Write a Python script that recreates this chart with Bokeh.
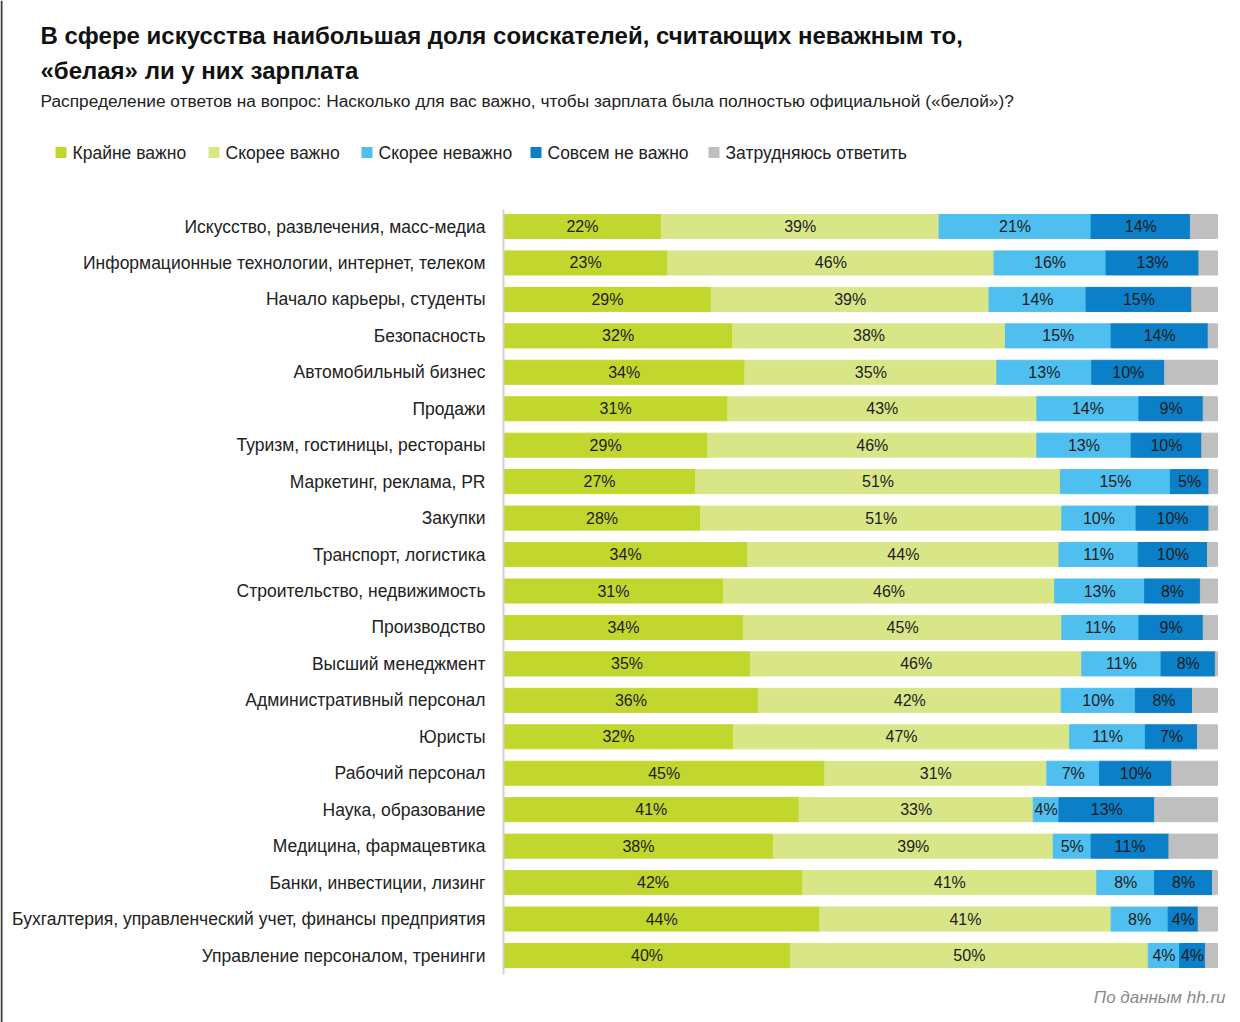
from bokeh.plotting import figure
from bokeh.models import ColumnDataSource, Range1d
from bokeh.embed import file_html
from bokeh.resources import INLINE
from bokeh.core.properties import value

categories = [
    "Искусство, развлечения, масс-медиа",
    "Информационные технологии, интернет, телеком",
    "Начало карьеры, студенты",
    "Безопасность",
    "Автомобильный бизнес",
    "Продажи",
    "Туризм, гостиницы, рестораны",
    "Маркетинг, реклама, PR",
    "Закупки",
    "Транспорт, логистика",
    "Строительство, недвижимость",
    "Производство",
    "Высший менеджмент",
    "Административный персонал",
    "Юристы",
    "Рабочий персонал",
    "Наука, образование",
    "Медицина, фармацевтика",
    "Банки, инвестиции, лизинг",
    "Бухгалтерия, управленческий учет, финансы предприятия",
    "Управление персоналом, тренинги",
]
extremely = [22.1, 23.0, 29.1, 32.1, 33.8, 31.4, 28.6, 26.9, 27.6, 34.2, 30.8, 33.6, 34.6, 35.7, 32.2,
             45.0, 41.4, 37.8, 41.9, 44.3, 40.2]
rather = [38.9, 45.7, 38.9, 38.2, 35.3, 43.3, 46.1, 51.1, 50.6, 43.6, 46.4, 44.6, 46.4, 42.4, 47.1,
          31.1, 32.8, 39.2, 41.2, 40.8, 50.1]
rather_not = [21.3, 15.7, 13.6, 14.8, 13.3, 14.3, 13.2, 15.4, 10.4, 11.1, 12.6, 10.8, 11.1, 10.4, 10.6,
              7.4, 3.6, 5.3, 8.1, 8.0, 4.4]
not_at_all = [13.9, 13.0, 14.8, 13.6, 10.2, 9.0, 9.9, 5.4, 10.2, 9.7, 7.8, 9.0, 7.6, 8.0, 7.3,
              10.1, 13.4, 10.9, 8.1, 4.2, 3.6]
hard_to_say = [3.8, 2.6, 3.6, 1.3, 7.4, 2.0, 2.2, 1.2, 1.2, 1.4, 2.4, 2.0, 0.3, 3.5, 2.8,
               6.4, 8.8, 6.8, 0.7, 2.7, 1.7]

series_names = ["Крайне важно", "Скорее важно", "Скорее неважно", "Совсем не важно", "Затрудняюсь ответить"]
colors = ["#c2d72e", "#d9e688", "#4fbff0", "#0b7fc7", "#bfbfbf"]

title_1 = "В сфере искусства наибольшая доля соискателей, считающих неважным то,"
title_2 = "«белая» ли у них зарплата"
subtitle = "Распределение ответов на вопрос: Насколько для вас важно, чтобы зарплата была полностью официальной («белой»)?"
source_note = "По данным hh.ru"

# ---- layout (pixels) ----
FONT = "Liberation Sans"
W, H = 1240, 1022
X0_PX, X100_PX = 503, 1217          # 0 % and 100 % of the bars
ROW0_PX, ROW_STEP = 226, 36.45      # centre of first row, row pitch
PPU = (X100_PX - X0_PX) / 100.0


def X(px):
    return (px - X0_PX) / PPU


def Y(py):
    return (py - ROW0_PX) / ROW_STEP


keys = ["s0", "s1", "s2", "s3", "s4"]
series = [extremely, rather, rather_not, not_at_all, hard_to_say]
ys = list(range(len(categories)))
src = ColumnDataSource(dict(y=ys, **{k: v for k, v in zip(keys, series)}))

p = figure(width=W, height=H, output_backend="svg", toolbar_location=None,
           x_range=Range1d(X(0), X(W)), y_range=Range1d(Y(H), Y(0)),
           x_axis_location=None, y_axis_location=None,
           min_border_left=0, min_border_right=0, min_border_top=0, min_border_bottom=0)
p.outline_line_color = None
p.xgrid.visible = False
p.ygrid.visible = False

p.hbar_stack(keys, y="y", height=0.66, color=colors, source=src)

# axis line at the bars' base and the frame line at the left edge
p.segment(x0=[0], y0=[Y(209)], x1=[0], y1=[Y(974)], line_color="#d2d2d2", line_width=2)
p.segment(x0=[X(1)], y0=[Y(0)], x1=[X(1)], y1=[Y(H)], line_color="#3a3a3a", line_width=2)

# percentage labels
lx, ly, lt = [], [], []
for i in ys:
    left = 0
    for s in series[:4]:
        v = s[i]
        lx.append(left + v / 2)
        ly.append(i)
        lt.append(f"{round(v)}%")
        left += v
p.text(x=lx, y=ly, text=lt, text_align="center", text_baseline="middle",
       text_font=value(FONT), text_font_size="16px", text_color="#1c1c1c")

# category labels
p.text(x=[X(485)] * len(ys), y=ys, text=categories, text_align="right", text_baseline="middle",
       text_font=value(FONT), text_font_size="17.5px", text_color="#222222")

# legend
leg_sq_px = [55, 208, 361, 530, 708]
p.scatter(x=[X(px + 5.5) for px in leg_sq_px], y=[Y(152)] * 5, marker="square", size=11,
          fill_color=colors, line_color=None)
p.text(x=[X(px + 17) for px in leg_sq_px], y=[Y(152)] * 5, text=series_names,
       text_align="left", text_baseline="middle",
       text_font=value(FONT), text_font_size="17.5px", text_color="#222222")

# titles and source
p.text(x=[X(40), X(40)], y=[Y(35), Y(70)], text=[title_1, title_2], text_align="left",
       text_baseline="middle", text_font=value(FONT), text_font_size="24px",
       text_font_style="bold", text_color="#111111")
p.text(x=[X(40)], y=[Y(100)], text=[subtitle], text_align="left", text_baseline="middle",
       text_font=value(FONT), text_font_size="17.3px", text_color="#222222")
p.text(x=[X(1225)], y=[Y(997)], text=[source_note], text_align="right", text_baseline="middle",
       text_font=value(FONT), text_font_size="17px", text_font_style="italic", text_color="#8a8a8a")

open("out.html", "w").write(file_html(p, INLINE))
